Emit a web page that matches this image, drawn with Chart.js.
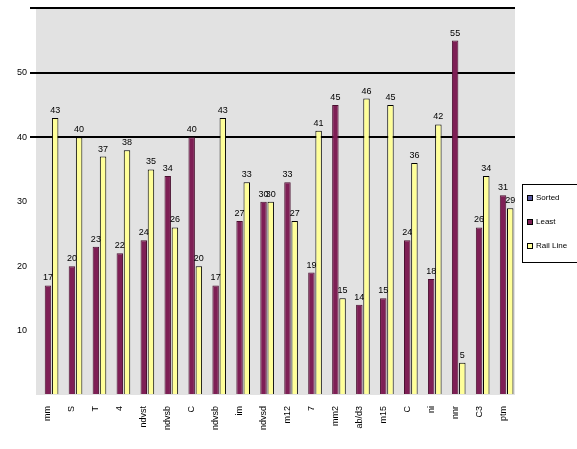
<!DOCTYPE html>
<html>
<head>
<meta charset="utf-8">
<script src="https://cdn.jsdelivr.net/npm/chart.js@4/dist/chart.umd.min.js"></script>
<style>
  body { margin: 0; background: #fff; }
  #wrap { width: 577px; height: 449px; }
</style>
</head>
<body>
<div id="wrap"><canvas id="barChart"></canvas></div>
<script>
// categories and series
const categories = ["mm", "S", "T", "4", "ndvst", "ndvsb", "C", "ndvsb", "im", "ndvsd",
                    "m12", "7", "mm2", "ab/d3", "m15", "C", "ni", "nnr", "C3", "ptm"];
const sorted = [0, 0, 0, 0, 0, 0, 0, 0, 0, 0, 0, 0, 0, 0, 0, 0, 0, 0, 0, 0];
const least = [17, 20, 23, 22, 24, 34, 40, 17, 27, 30, 33, 19, 45, 14, 15, 24, 18, 55, 26, 31];
const railLine = [43, 40, 37, 38, 35, 26, 20, 43, 33, 30, 27, 41, 15, 46, 45, 36, 42, 5, 34, 29];
const seriesNames = ["Sorted", "Least", "Rail Line"];
const yTicks = [10, 20, 30, 40, 50];

const colors = ['#5a5aa0', '#7e1f55', '#ffff99'];

// grey plot area
const plotBg = {
    id: 'plotBg',
    beforeDraw(chart) {
        const {ctx, chartArea: a} = chart;
        ctx.save();
        ctx.fillStyle = '#e2e2e2';
        ctx.fillRect(a.left, a.top, a.right - a.left, a.bottom - a.top);
        ctx.restore();
    }
};

// numbers above the bars
const valueLabels = {
    id: 'valueLabels',
    afterDatasetsDraw(chart) {
        const ctx = chart.ctx;
        ctx.save();
        ctx.font = '9px Arial, "Liberation Sans"';
        ctx.fillStyle = '#000';
        ctx.textAlign = 'center';
        ctx.textBaseline = 'bottom';
        [1, 2].forEach(i => {
            chart.getDatasetMeta(i).data.forEach((bar, j) => {
                ctx.fillText(chart.data.datasets[i].data[j], bar.x, bar.y - 3);
            });
        });
        ctx.restore();
    }
};

// boxed legend on the right
const boxLegend = {
    id: 'boxLegend',
    afterDraw(chart) {
        const ctx = chart.ctx;
        const x = 522, y = 184, w = 60, h = 78;
        ctx.save();
        ctx.fillStyle = '#fff';
        ctx.fillRect(x, y, w, h);
        ctx.strokeStyle = '#000';
        ctx.lineWidth = 1;
        ctx.strokeRect(x + 0.5, y + 0.5, w, h);
        ctx.font = '8px Arial, "Liberation Sans"';
        ctx.textBaseline = 'middle';
        seriesNames.forEach((name, i) => {
            const ly = y + 14 + i * 24;
            ctx.fillStyle = colors[i];
            ctx.fillRect(x + 5, ly - 3, 6, 6);
            ctx.strokeStyle = '#000';
            ctx.strokeRect(x + 5.5, ly - 2.5, 5, 5);
            ctx.fillStyle = '#000';
            ctx.fillText(name, x + 14, ly);
        });
        ctx.restore();
    }
};

const canvas = document.getElementById('barChart');
new Chart(canvas.getContext('2d'), {
    type: 'bar',
    data: {
        labels: categories,
        datasets: seriesNames.map((name, i) => ({
            label: name,
            data: [sorted, least, railLine][i],
            backgroundColor: colors[i],
            borderColor: i === 1 ? '#4a1030' : '#000',
            borderWidth: 1,
            categoryPercentage: 0.9,
            barPercentage: 0.9
        }))
    },
    options: {
        responsive: true,
        maintainAspectRatio: false,
        animation: false,
        layout: { padding: { top: 4, right: 62, left: 0, bottom: 0 } },
        plugins: {
            legend: { display: false },
            tooltip: { enabled: false }
        },
        scales: {
            x: {
                grid: { display: false },
                border: { display: false },
                ticks: {
                    minRotation: 90,
                    maxRotation: 90,
                    color: '#000',
                    font: { size: 9, family: 'Arial, "Liberation Sans"' }
                },
                afterFit(scale) { scale.height = 54; }
            },
            y: {
                min: 0,
                max: 60,
                border: { display: false },
                grid: {
                    color: c => (c.tick && c.tick.value >= 40 ? '#000' : 'rgba(0,0,0,0)'),
                    lineWidth: 2,
                    tickLength: 6
                },
                ticks: {
                    stepSize: 10,
                    color: '#000',
                    font: { size: 9, family: 'Arial, "Liberation Sans"' },
                    callback: v => (yTicks.includes(v) ? v : '')
                },
                afterFit(scale) { scale.width = 36; }
            }
        }
    },
    plugins: [plotBg, valueLabels, boxLegend]
});
</script>
</body>
</html>
